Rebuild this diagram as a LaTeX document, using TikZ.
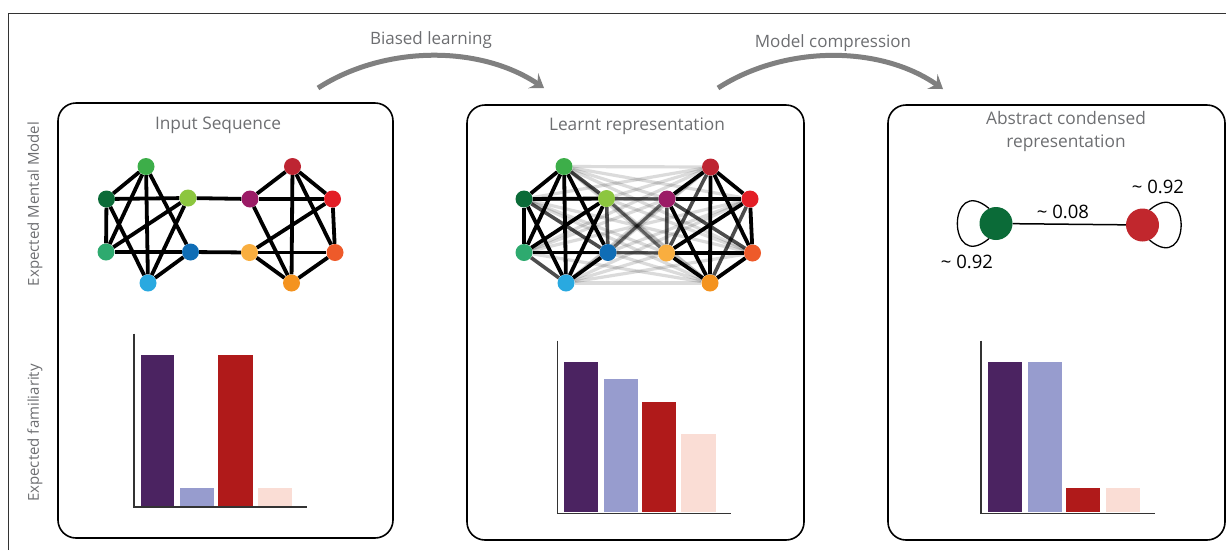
\documentclass[tikz,border=0pt]{standalone}
\usepackage{fontspec}
\setmainfont{Open Sans}
\usetikzlibrary{arrows.meta}
\pgfdeclarelayer{edges}
\pgfsetlayers{edges,main}
\definecolor{cTG}{HTML}{3DAE49}
\definecolor{cDG}{HTML}{0B6B38}
\definecolor{cLG}{HTML}{8CC63F}
\definecolor{cTE}{HTML}{2EAA6F}
\definecolor{cBL}{HTML}{0F6DB6}
\definecolor{cLB}{HTML}{29A9E0}
\definecolor{cMG}{HTML}{9B1B66}
\definecolor{cTR}{HTML}{BE2532}
\definecolor{cRD}{HTML}{E31E26}
\definecolor{cYO}{HTML}{F9AE3F}
\definecolor{cOR}{HTML}{EE5A2A}
\definecolor{cOG}{HTML}{F4931F}
\definecolor{bigG}{HTML}{0B6B38}
\definecolor{bigR}{HTML}{C1272D}
\definecolor{barP}{HTML}{4B2361}
\definecolor{barL}{HTML}{979CCE}
\definecolor{barR}{HTML}{B01A1A}
\definecolor{barK}{HTML}{FADDD5}
\definecolor{txtgray}{HTML}{6D6E71}
\definecolor{arrgray}{HTML}{808080}
\definecolor{frame}{HTML}{333333}
\tikzset{
  panel/.style={draw=black, line width=1.6pt, rounded corners=18pt, inner sep=0pt},
  gnode/.style={circle, inner sep=0pt, minimum size=17pt, draw=none},
  bignode/.style={circle, inner sep=0pt, minimum size=33pt, draw=none},
  gedge/.style={line width=3.8pt, black},
  nonedge/.style={line width=3.6pt, black, opacity=0.7},
  crossedge/.style={line width=3.2pt, black, opacity=0.14},
  midedge/.style={line width=3.2pt, black, opacity=0.45},
  title/.style={font=\fontsize{17.3}{23}\selectfont, text=txtgray, align=center},
  arrlab/.style={font=\fontsize{17}{20}\selectfont, text=txtgray},
  sidelab/.style={font=\fontsize{15}{18}\selectfont, text=txtgray, rotate=90},
  numlab/.style={font=\fontsize{18.5}{21}\selectfont, text=black},
  bigarrow/.style={line width=5pt, arrgray, -{Stealth[length=13pt,width=18pt,inset=5pt]}},
  axisline/.style={line width=1.6pt, frame},
  loopline/.style={line width=1.3pt, black}
}
\begin{document}
\begin{tikzpicture}[x=1pt,y=-1pt]
\useasboundingbox (0,0) rectangle (1226,550);
% outer frame
\draw[frame, line width=1pt] (8,550) -- (8,13.5) -- (1226,13.5);
% side labels
\node[sidelab] (lab1) at (35,204) {Expected Mental Model};
\node[sidelab] (lab2) at (35,433) {Expected familiarity};
% panels
\node[panel, minimum width=335pt, minimum height=435pt] (p1) at (225.5,320.5) {};
\node[panel, minimum width=337pt, minimum height=435pt] (p2) at (635.5,322.5) {};
\node[panel, minimum width=337pt, minimum height=435pt] (p3) at (1056.5,322.5) {};
% titles
\node[title] (t1) at (218,125) {Input Sequence};
\node[title] (t2) at (637,126) {Learnt representation};
\node[title] (t3) at (1066,131) {Abstract condensed\\representation};
% top arrows
\node[arrlab] (a1lab) at (431,40) {Biased learning};
\node[arrlab] (a2lab) at (833,43) {Model compression};
\coordinate (a1s) at (318,88);
\coordinate (a1e) at (544,88);
\coordinate (a2s) at (718,88);
\coordinate (a2e) at (943,89);
\draw[bigarrow] (a1s) .. controls (385,45) and (480,45) .. (a1e);
\draw[bigarrow] (a2s) .. controls (785,45) and (880,45) .. (a2e);
% ---------------- left graph
\foreach \n/\x/\y in {TG/146/166.5, DG/106.5/199, LG/188/198, TE/106/252, BL/190.5/252, LB/148/283,
                      MG/250/199, TR/292.5/166.5, RD/332.5/199, YO/249.5/252.5, OR/335/252.5, OG/291.5/283}
  \node[gnode, fill=c\n] (L\n) at (\x,\y) {};
\begin{pgfonlayer}{edges}
\foreach \a/\b in {DG/TG, DG/LG, DG/TE, DG/LB, TG/TE, TG/LB, TG/BL, LG/TE, LG/LB, TE/BL, LB/BL,
                   LG/MG, BL/YO,
                   TR/MG, TR/RD, TR/OG, TR/OR, MG/RD, MG/OG, YO/RD, YO/OR, YO/OG, RD/OR, OR/OG}
  \draw[gedge] (L\a) -- (L\b);
\end{pgfonlayer}
% ---------------- middle graph
\foreach \n/\x/\y in {TG/564/166.5, DG/524/199, LG/606.5/198.5, TE/524/252.5, BL/608/252.5, LB/566/283,
                      MG/667/199, TR/710.5/167, RD/750/199, YO/666.5/253, OR/752.5/253, OG/710/283}
  \node[gnode, fill=c\n] (M\n) at (\x,\y) {};
\begin{pgfonlayer}{edges}
\foreach \a in {TG,DG,LG,TE,BL,LB}
  \foreach \b in {MG,TR,RD,YO,OR,OG}
    \draw[crossedge] (M\a) -- (M\b);
\foreach \a/\b in {LG/MG, BL/YO, LG/YO, BL/MG}
  \draw[midedge] (M\a) -- (M\b);
\foreach \a/\b in {TG/LG, DG/BL, LG/BL, TE/LB, TR/YO, MG/YO, MG/OR, RD/OG}
  \draw[nonedge] (M\a) -- (M\b);
\foreach \a/\b in {DG/TG, DG/LG, DG/TE, DG/LB, TG/TE, TG/LB, TG/BL, LG/TE, LG/LB, TE/BL, LB/BL,
                   TR/MG, TR/RD, TR/OG, TR/OR, MG/RD, MG/OG, YO/RD, YO/OR, YO/OG, RD/OR, OR/OG}
  \draw[gedge] (M\a) -- (M\b);
\end{pgfonlayer}
% ---------------- right condensed graph
\node[bignode, fill=bigG] (G) at (996,223.5) {};
\node[bignode, fill=bigR] (R) at (1142.5,225) {};
\begin{pgfonlayer}{edges}
\draw[line width=1.5pt] (G) -- (R);
\end{pgfonlayer}
\draw[loopline] (G.115) .. controls +(220:55) and +(140:55) .. (G.245);
\draw[loopline] (R.65) .. controls +(-40:55) and +(40:55) .. (R.-65);
\node[numlab] (w1) at (1063,212) {\textasciitilde{} 0.08};
\node[numlab] (w2) at (1158,187) {\textasciitilde{} 0.92};
\node[numlab] (w3) at (967,262) {\textasciitilde{} 0.92};
% ---------------- bar charts
% left
\fill[barP] (140.7,355) rectangle (174.3,506);
\fill[barL] (180.3,487.7) rectangle (214,506);
\fill[barR] (218.3,355) rectangle (252.7,506);
\fill[barK] (258.3,487.7) rectangle (292,506);
\draw[axisline] (134,333.5) -- (134,507) -- (307,507);
% middle
\fill[barP] (564.3,361.7) rectangle (598,512);
\fill[barL] (603.7,378.7) rectangle (637.7,512);
\fill[barR] (642.3,402.3) rectangle (676.3,512);
\fill[barK] (681.3,434) rectangle (715.7,512);
\draw[axisline] (557.3,340.7) -- (557.3,513.3) -- (731,513.3);
% right
\fill[barP] (988.3,361.7) rectangle (1022,512);
\fill[barL] (1027.7,361.7) rectangle (1061.7,512);
\fill[barR] (1066,487.7) rectangle (1100,512);
\fill[barK] (1105.7,487.7) rectangle (1139.7,512);
\draw[axisline] (981,340.7) -- (981,513.3) -- (1155,513.3);
\end{tikzpicture}
\end{document}
